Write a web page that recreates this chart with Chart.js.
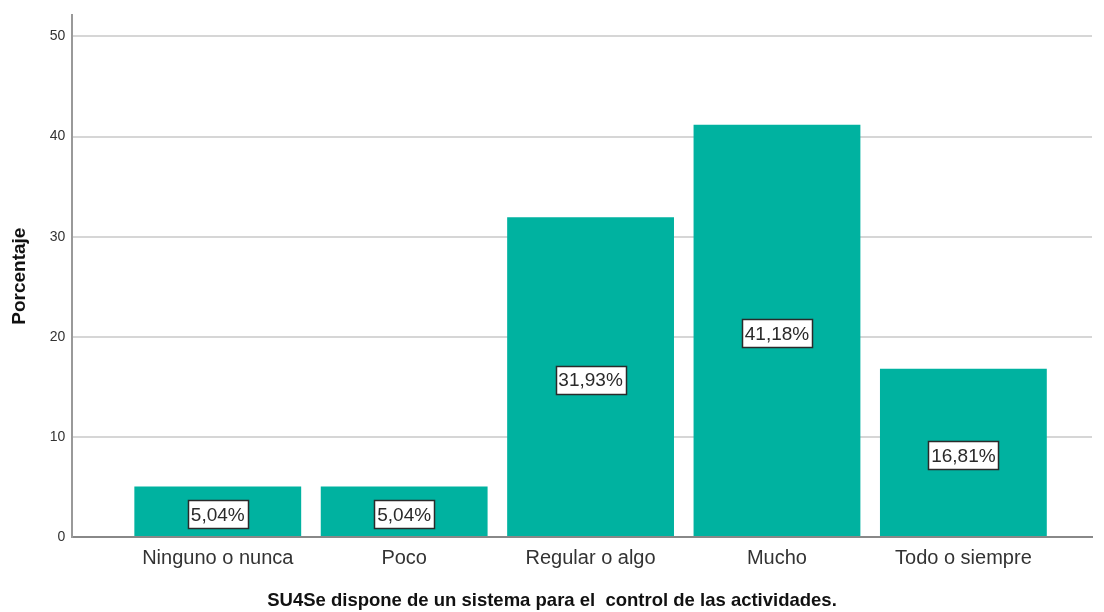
<!DOCTYPE html>
<html>
<head>
<meta charset="utf-8">
<script src="https://cdn.jsdelivr.net/npm/chart.js@4"></script>
<style>
  html, body { margin: 0; padding: 0; background: #fff; }
  #wrap { width: 1104px; height: 612px; }
</style>
</head>
<body>
<div id="wrap"><canvas id="chart"></canvas></div>
<script>
const categories = ['Ninguno o nunca', 'Poco', 'Regular o algo', 'Mucho', 'Todo o siempre'];
const percentages = [5.04, 5.04, 31.93, 41.18, 16.81];
const pctLabels = ['5,04%', '5,04%', '31,93%', '41,18%', '16,81%'];
const yTicks = [0, 10, 20, 30, 40, 50];
const xTitle = 'SU4Se dispone de un sistema para el  control de las actividades.';

const points = percentages.map((v, i) => ({ x: i + 1, y: v }));

// boxed value labels in the middle of each bar
const boxLabels = {
    id: 'boxLabels',
    afterDatasetsDraw(chart) {
        const { ctx } = chart;
        const meta = chart.getDatasetMeta(0);
        ctx.save();
        ctx.font = '19px "Liberation Sans", Arial, sans-serif';
        ctx.textAlign = 'center';
        ctx.textBaseline = 'middle';
        meta.data.forEach((bar, i) => {
            const text = pctLabels[i];
            const cx = bar.x;
            const cy = (bar.y + bar.base) / 2 + 3;
            const w = Math.round(ctx.measureText(text).width + 6);
            const h = 28;
            const left = Math.round(cx - w / 2);
            const top = Math.round(cy - h / 2);
            ctx.fillStyle = '#fff';
            ctx.fillRect(left, top, w, h);
            ctx.strokeStyle = '#2a2a2a';
            ctx.lineWidth = 1.5;
            ctx.strokeRect(left + 0.5, top + 0.5, w, h);
            ctx.fillStyle = '#2a2a2a';
            ctx.fillText(text, cx, cy + 1);
        });
        ctx.restore();
    },
};

// x title is centred on the whole picture, not on the plot area
const pageTitle = {
    id: 'pageTitle',
    afterDraw(chart) {
        const { ctx } = chart;
        ctx.save();
        ctx.font = 'bold 18.5px "Liberation Sans", Arial, sans-serif';
        ctx.fillStyle = '#111';
        ctx.textAlign = 'center';
        ctx.textBaseline = 'middle';
        ctx.fillText(xTitle, chart.width / 2, chart.height - 11);
        ctx.restore();
    },
};

new Chart(document.getElementById('chart'), {
    type: 'bar',
    data: {
        datasets: [{
            data: points,
            backgroundColor: '#00b2a0',
            borderWidth: 0,
            barPercentage: 0.895,
            categoryPercentage: 1,
        }],
    },
    options: {
        responsive: true,
        maintainAspectRatio: false,
        animation: false,
        layout: { padding: { left: 8, right: 12, top: 2, bottom: 33 } },
        plugins: {
            legend: { display: false },
            tooltip: { enabled: false },
        },
        scales: {
            x: {
                type: 'linear',
                offset: false,
                min: 0.22,
                max: 5.69,
                afterBuildTicks(scale) {
                    scale.ticks = categories.map((c, i) => ({ value: i + 1 }));
                },
                ticks: {
                    callback: (v) => categories[v - 1] || '',
                    color: '#333',
                    font: { size: 20, family: '"Liberation Sans", Arial, sans-serif' },
                    padding: 9,
                    maxRotation: 0,
                    autoSkip: false,
                },
                grid: { display: false, drawTicks: false },
                border: { color: '#888', width: 2 },
            },
            y: {
                min: 0,
                max: 52.1,
                afterBuildTicks(scale) {
                    scale.ticks = yTicks.map((v) => ({ value: v }));
                },
                ticks: {
                    color: '#333',
                    font: { size: 14, family: '"Liberation Sans", Arial, sans-serif' },
                    padding: 7,
                },
                grid: { color: '#d6d6d6', lineWidth: 2, drawTicks: false },
                border: { color: '#999', width: 2 },
                title: {
                    display: true,
                    text: 'Porcentaje',
                    color: '#111',
                    font: { size: 19, weight: 'bold', family: '"Liberation Sans", Arial, sans-serif' },
                    padding: { top: 0, bottom: 12 },
                },
            },
        },
    },
    plugins: [boxLabels, pageTitle],
});
</script>
</body>
</html>
